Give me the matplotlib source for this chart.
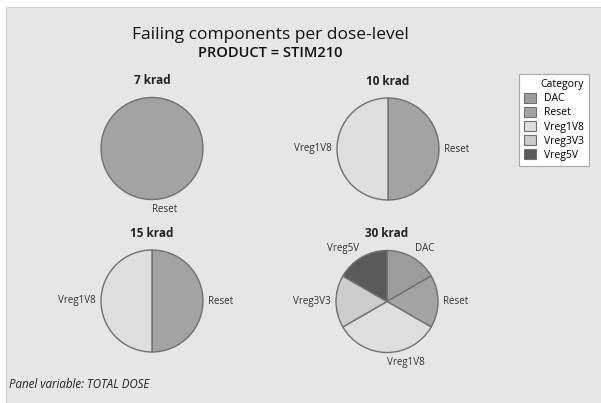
import matplotlib
matplotlib.use("Agg")
import matplotlib.pyplot as plt
from matplotlib.patches import Rectangle, Patch

plt.rcParams["font.family"] = ["Open Sans", "DejaVu Sans"]

# ---------------------------------------------------------------------------
# Data: number of failing components per category, one list per dose level
# ---------------------------------------------------------------------------
categories = ["DAC", "Reset", "Vreg1V8", "Vreg3V3", "Vreg5V"]
colors = ["#9c9c9c", "#a3a3a3", "#dedede", "#cccccc", "#5a5a5a"]

panels = ["7 krad", "10 krad", "15 krad", "30 krad"]
counts = {
    "7 krad":  [0, 1, 0, 0, 0],
    "10 krad": [0, 1, 1, 0, 0],
    "15 krad": [0, 1, 1, 0, 0],
    "30 krad": [1, 1, 2, 1, 1],
}

W, H = 601, 403
fig = plt.figure(figsize=(W / 100, H / 100), dpi=100, facecolor="white")

# gray Minitab-style canvas (behind everything)
fig.patches.append(Rectangle((6 / W, 0), 1, 1 - 7 / H, transform=fig.transFigure,
                             facecolor="#e6e6e6", edgecolor="#d2d2d2", lw=0.8, zorder=-10))

# pie centres in pixels (from top-left) and radius
centres = [(152, 148.5), (388, 149), (152, 301), (387, 301.5)]
R = 51
LIM = 1.4

for name, (cx, cy) in zip(panels, centres):
    half = LIM * R
    ax = fig.add_axes([(cx - half) / W, (H - cy - half) / H, 2 * half / W, 2 * half / H])
    ax.patch.set_visible(False)

    vals = [v for v in counts[name] if v > 0]
    labs = [c for c, v in zip(categories, counts[name]) if v > 0]
    cols = [col for col, v in zip(colors, counts[name]) if v > 0]
    wedges, texts = ax.pie(vals, labels=labs, colors=cols, startangle=90,
                           counterclock=False, labeldistance=1.1,
                           wedgeprops=dict(edgecolor="#707070", linewidth=1.0),
                           textprops=dict(fontsize=7, color="#333333"))
    # labels sit a bit further out above/below the pie than at the sides;
    # labels straight below the centre start at the centre (Minitab style)
    for t in texts:
        x, y = t.get_position()
        t.set_position((x, y * 1.2 / 1.1))
        if abs(x) < 1e-6:
            t.set_horizontalalignment("left")
    ax.set_xlim(-LIM, LIM)
    ax.set_ylim(-LIM, LIM)
    ax.axis("off")
    ax.text(0, 1.33, name, ha="center", va="center", fontsize=8.5,
            fontweight="bold", color="#222222")

# titles
fig.text(270 / W, 1 - 35 / H, "Failing components per dose-level", ha="center",
         va="center", fontsize=12.5, color="#111111")
fig.text(270 / W, 1 - 53 / H, "PRODUCT = STIM210", ha="center", va="center",
         fontsize=10.5, fontweight="semibold", color="#111111")

# legend
handles = [Patch(facecolor=c, edgecolor="#707070", lw=0.8) for c in colors]
leg = fig.legend(handles, categories, title="Category", loc="upper left",
                 bbox_to_anchor=(519 / W, 1 - 74 / H), borderaxespad=0,
                 fontsize=7.5, title_fontsize=7.5,
                 handlelength=1.1, handleheight=1.1, labelspacing=0.25,
                 handletextpad=0.8, borderpad=0.5, alignment="right",
                 fancybox=False, framealpha=1, edgecolor="#a8a8a8")
leg.get_frame().set_linewidth(0.8)

# footnote
fig.text(9 / W, 1 - 385 / H, "Panel variable: TOTAL DOSE", ha="left", va="center",
         fontsize=8.3, style="italic", color="#222222")

fig.savefig("out.png", dpi=100)
